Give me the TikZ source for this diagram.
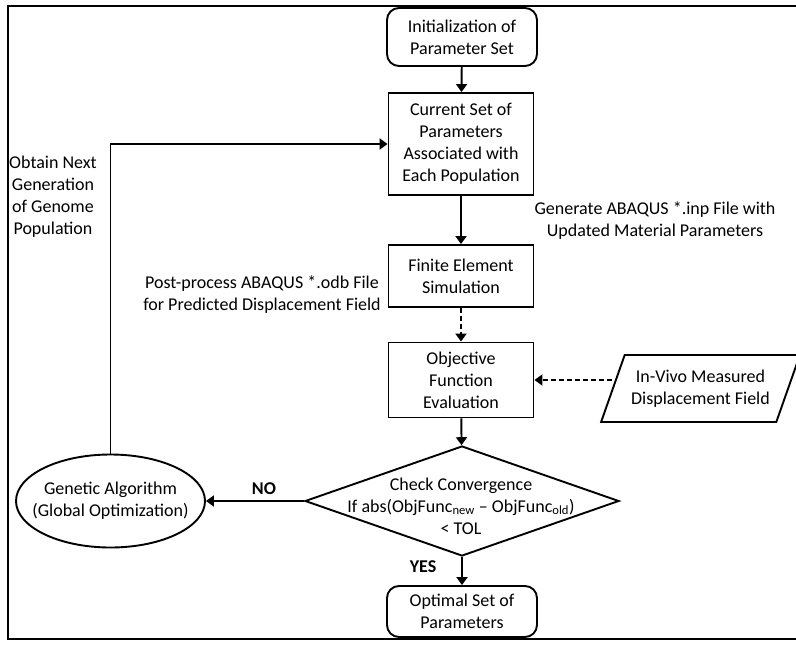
\documentclass[tikz,border=0pt]{standalone}
\usepackage{fontspec}
\setmainfont{Carlito}
\usetikzlibrary{arrows.meta,shapes.geometric}

\begin{document}
\begin{tikzpicture}[x=1pt, y=-1pt,
    every node/.style={font=\fontsize{18}{22}\selectfont, align=center, inner sep=0pt},
    box/.style={draw, line width=1.9pt, minimum width=145pt},
    start/.style={box, rounded corners=12pt, minimum width=150pt},
    data/.style={draw, line width=1.9pt, trapezium, trapezium left angle=60,
                 trapezium right angle=120, trapezium stretches=true,
                 minimum width=199pt, minimum height=67pt},
    check/.style={draw, line width=1.9pt, diamond, minimum width=314pt, minimum height=110pt},
    algo/.style={draw, line width=1.9pt, ellipse, inner xsep=-16pt,
                 minimum width=189pt, minimum height=93pt},
    flow/.style={line width=1.9pt, -{Triangle[width=11pt,length=8pt]}},
    dflow/.style={flow, dash pattern=on 5pt off 3pt}]
    \useasboundingbox (0, 0) rectangle (796, 646);
    \draw[line width=1.5pt] (8, 6) rectangle (802, 639);

    % flow chart boxes
    \node[start, minimum height=58pt] (init) at (462, 37) {Initialization of\\Parameter Set};
    \node[box, minimum height=102pt] (cur) at (461, 144) {Current Set of\\Parameters\\Associated with\\Each Population};
    \node[box, minimum height=62pt] (fem) at (461, 276) {Finite Element\\Simulation};
    \node[box, minimum height=75pt] (obj) at (461, 380) {Objective\\Function\\Evaluation};
    \node[data] (meas) at (700.5, 388.5) {In-Vivo Measured\\Displacement Field};
    \node[check] (conv) at (462, 501) {};
    \node (convtxt) at (461, 506) {Check Convergence\\If abs(ObjFunc\textsubscript{new} -- ObjFunc\textsubscript{old})\\< TOL};
    \node[algo] (ga) at (110.5, 501) {Genetic Algorithm\\(Global Optimization)};
    \node[start, minimum height=51pt] (opt) at (462, 611.5) {Optimal Set of\\Parameters};

    % labels
    \node (nextgen) at (53, 197) {Obtain Next\\Generation\\of Genome\\Population};
    \node (geninp) at (655, 221) {Generate ABAQUS *.inp File with\\Updated Material Parameters};
    \node (postodb) at (262, 295) {Post-process ABAQUS *.odb File\\for Predicted Displacement Field};
    \node[font=\fontsize{18}{22}\selectfont\bfseries] (no) at (264, 489) {NO};
    \node[font=\fontsize{18}{22}\selectfont\bfseries] (yes) at (423, 567) {YES};

    \path (init) edge[flow] (cur)
          (cur) edge[flow] (fem)
          (obj) edge[flow] (conv)
          (conv.west) edge[flow] (ga.east)
          (conv) edge[flow] (opt)
          (fem) edge[dflow] (obj)
          (meas.west |- obj.east) edge[dflow] (obj.east);
    \draw[flow] (ga.north) |- (cur.west);
\end{tikzpicture}
\end{document}
